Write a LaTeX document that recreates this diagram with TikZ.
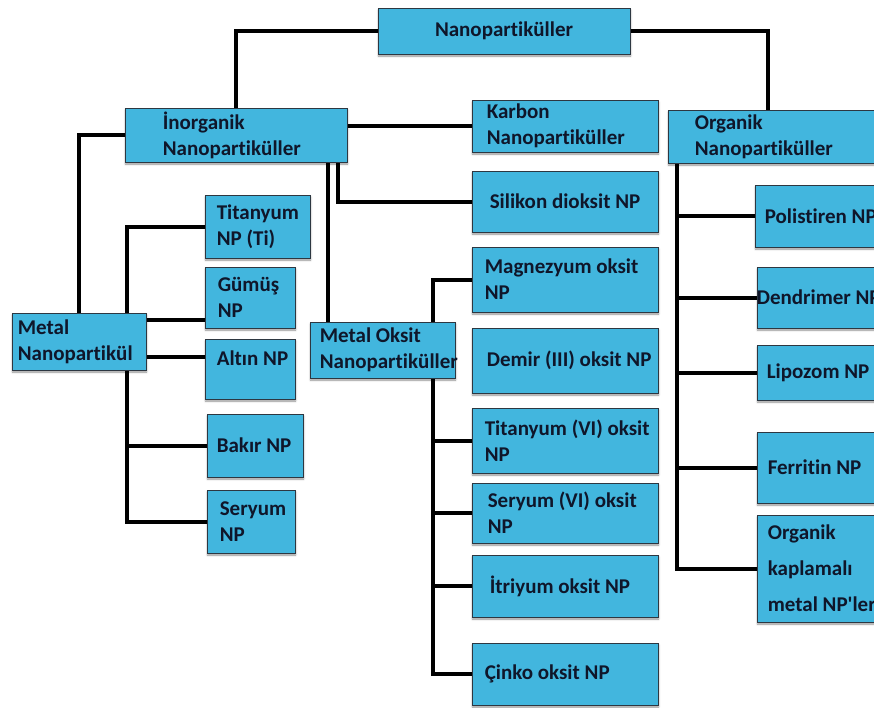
\documentclass[tikz,border=0pt]{standalone}
\usepackage{fontspec}
\setmainfont{Carlito}[Ligatures=NoCommon]
\usetikzlibrary{positioning, shadows.blur, backgrounds}

\definecolor{npblue}{RGB}{66,182,222}
\definecolor{npedge}{RGB}{45,55,65}
\definecolor{nptext}{RGB}{15,22,42}

\begin{document}
\begin{tikzpicture}[
    x=1pt, y=-1pt,
    npbox/.style={rectangle, draw=npedge, line width=0.8pt, fill=npblue, inner sep=0pt,
        blur shadow={shadow xshift=0.5pt, shadow yshift=-2pt, shadow blur radius=2pt, shadow opacity=45}},
    txt/.style={inner sep=0pt, align=left, text=nptext, font=\bfseries\fontsize{21}{26}\selectfont},
    link/.style={line width=4pt, black}
]
\useasboundingbox (0,0) rectangle (874,707);
\clip (0,0) rectangle (874,707);

% top level
\node[npbox, minimum width=252, minimum height=46] (top) at (504,31) {};
\node[txt] (top-t) at (top) {Nanopartiküller};

% second level
\node[npbox, minimum width=222, minimum height=54] (inorg) at (236,135) {};
\node[txt, right=38pt of inorg.west] (inorg-t) {İnorganik\\Nanopartiküller};
\node[npbox, minimum width=186, minimum height=52] (karbon) at (565,126) {};
\node[txt, right=15pt of karbon.west] (karbon-t) {Karbon\\Nanopartiküller};
\node[npbox, minimum width=186, minimum height=61] (silikon) at (565,201.5) {};
\node[txt, right=18pt of silikon.west] (silikon-t) {Silikon dioksit NP};
\node[npbox, minimum width=222, minimum height=53] (org) at (779,136.5) {};
\node[txt, right=27pt of org.west] (org-t) {Organik\\Nanopartiküller};

% metal nanoparticles
\node[npbox, minimum width=134, minimum height=57] (metal) at (79,341.5) {};
\node[txt, right=6pt of metal.west] (metal-t) {Metal\\Nanopartikül};
\node[npbox, minimum width=105, minimum height=63] (titan) at (257.5,226.5) {};
\node[txt, right=12pt of titan.west] (titan-t) {Titanyum\\NP (Ti)};
\node[npbox, minimum width=90, minimum height=61] (gumus) at (250,297.5) {};
\node[txt, right=13pt of gumus.west] (gumus-t) {Gümüş\\NP};
\node[npbox, minimum width=90, minimum height=60] (altin) at (250,369) {};
\node[txt, below right=12pt and 12pt of altin.north west] (altin-t) {Altın NP};
\node[npbox, minimum width=96, minimum height=63] (bakir) at (255,445.5) {};
\node[txt, right=10pt of bakir.west] (bakir-t) {Bakır NP};
\node[npbox, minimum width=88, minimum height=63] (seryum) at (251,521.5) {};
\node[txt, right=13pt of seryum.west] (seryum-t) {Seryum\\NP};

% metal oxide nanoparticles
\node[npbox, minimum width=145, minimum height=56] (moksit) at (382.5,350) {};
\node[txt, right=10pt of moksit.west] (moksit-t) {Metal Oksit\\Nanopartiküller};
\node[npbox, minimum width=186, minimum height=65] (magne) at (565,279.5) {};
\node[txt, right=13pt of magne.west] (magne-t) {Magnezyum oksit\\NP};
\node[npbox, minimum width=186, minimum height=65] (demir) at (565,360.5) {};
\node[txt, right=15pt of demir.west] (demir-t) {Demir (III) oksit NP};
\node[npbox, minimum width=186, minimum height=65] (titvi) at (565,440.5) {};
\node[txt, right=13pt of titvi.west] (titvi-t) {Titanyum (VI) oksit\\NP};
\node[npbox, minimum width=186, minimum height=60] (servi) at (565,513) {};
\node[txt, right=16pt of servi.west] (servi-t) {Seryum (VI) oksit\\NP};
\node[npbox, minimum width=186, minimum height=62] (itri) at (565,586) {};
\node[txt, right=18pt of itri.west] (itri-t) {İtriyum oksit NP};
\node[npbox, minimum width=186, minimum height=62] (cinko) at (565,674) {};
\node[txt, right=13pt of cinko.west] (cinko-t) {Çinko oksit NP};

% organic nanoparticles
\node[npbox, minimum width=150, minimum height=62] (poli) at (830,216) {};
\node[txt, right=10pt of poli.west] (poli-t) {Polistiren NP};
\node[npbox, minimum width=150, minimum height=61] (dendri) at (832,297.5) {};
\node[txt, right=0pt of dendri.west] (dendri-t) {Dendrimer NP};
\node[npbox, minimum width=150, minimum height=55] (lipo) at (832,372.5) {};
\node[txt, right=10pt of lipo.west] (lipo-t) {Lipozom NP};
\node[npbox, minimum width=150, minimum height=71] (ferri) at (832,467.5) {};
\node[txt, right=11pt of ferri.west] (ferri-t) {Ferritin NP};
\node[npbox, minimum width=150, minimum height=107] (orgkap) at (832,568.5) {};
\node[txt, font=\bfseries\fontsize{21}{36}\selectfont, right=11pt of orgkap.west] (orgkap-t) {Organik\\kaplamalı\\metal NP\textquotesingle ler};

% branch points
\coordinate (inorg-s1) at ([xshift=102]inorg.south);
\coordinate (inorg-s2) at ([xshift=92]inorg.south);
\coordinate (metal-up) at ([xshift=48]metal.north);
\coordinate (metal-dn) at ([xshift=48]metal.south);
\coordinate (metal-g) at ([yshift=-7]metal.north east);
\coordinate (metal-a) at ([yshift=-15.5]metal.east);
\coordinate (moksit-up) at ([xshift=50.5]moksit.north);
\coordinate (moksit-dn) at ([xshift=50.5]moksit.south);
\coordinate (org-dn) at ([xshift=9]org.south west);

\begin{scope}[on background layer]
\draw[link] (top.west) -| (inorg.north);
\draw[link] (top.east) -| ([xshift=-11]org.north);
\draw[link] (inorg.east |- karbon.west) -- (karbon.west);
\draw[link] (inorg-s1) |- (silikon.west);
\draw[link] (inorg-s2) -- (inorg-s2 |- moksit.north);
\draw[link] (inorg.west) -| (metal.north);
\draw[link] (metal-up) |- (titan.west);
\draw[link] (metal-g) -- (metal-g -| gumus.west);
\draw[link] (metal-a) -- (metal-a -| altin.west);
\draw[link] (metal-dn) |- (bakir.west);
\draw[link] (metal-dn) |- (seryum.west);
\draw[link] (moksit-up) |- (magne.west);
\foreach \n in {titvi, servi, itri, cinko}
    \draw[link] (moksit-dn) |- (\n.west);
\foreach \n in {poli, dendri, lipo, ferri, orgkap}
    \draw[link] (org-dn) |- (\n.west);
\end{scope}

\end{tikzpicture}
\end{document}
